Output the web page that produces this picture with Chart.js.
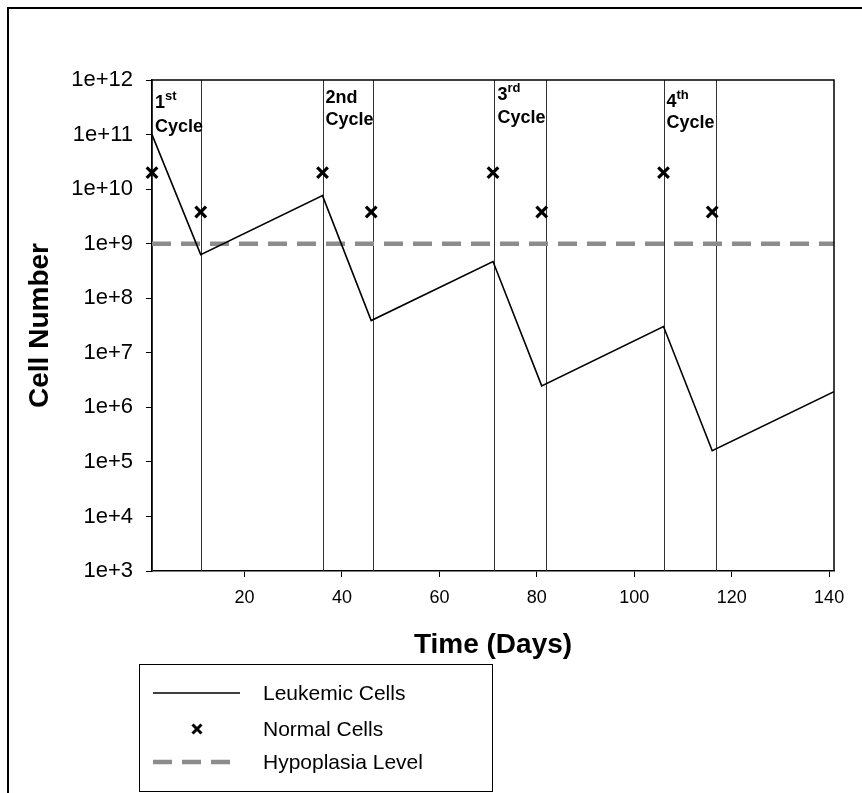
<!DOCTYPE html>
<html>
<head>
<meta charset="utf-8">
<script src="https://cdn.jsdelivr.net/npm/chart.js@4/dist/chart.umd.min.js"></script>
<style>
  html, body { margin: 0; padding: 0; background: #fff; }
  #wrap { position: relative; width: 862px; height: 793px; }
  canvas { display: block; }
</style>
</head>
<body>
<div id="wrap"><canvas id="c" width="862" height="793"></canvas></div>
<script>
// Leukemic cell burden over four chemotherapy cycles
const leukemicDays  = [1, 11, 36, 46, 71, 81, 106, 116, 141];
const leukemicCells = [1.0e11, 6.3e8, 7.6e9, 3.9e7, 4.7e8, 2.47e6, 3.03e7, 1.6e5, 1.94e6];

// Normal cell counts sampled at the start and end of each cycle
const normalDays  = [1, 11, 36, 46, 71, 81, 106, 116];
const normalCells = [2.0e10, 3.8e9, 2.0e10, 3.8e9, 2.0e10, 3.8e9, 2.0e10, 3.8e9];

const hypoplasiaLevel = 1e9;
const timeRange = [1, 141];

// Treatment windows
const cycleStartDays = [1, 36, 71.3, 106];
const cycleEndDays   = [11, 46.3, 81.8, 116.8];
const cycleNumbers   = ['1', '2', '3', '4'];
const cycleSuffixes  = ['st', 'nd', 'rd', 'th'];
const suffixRaised   = [true, false, true, true];

const xTicks = [20, 40, 60, 80, 100, 120, 140];
const yTickExponents = [3, 4, 5, 6, 7, 8, 9, 10, 11, 12];
const yTickLabels = ['1e+3', '1e+4', '1e+5', '1e+6', '1e+7', '1e+8', '1e+9', '1e+10', '1e+11', '1e+12'];

const legendLabels = ['Leukemic Cells', 'Normal Cells', 'Hypoplasia Level'];

const FONT = 'Arial, "Liberation Sans", Helvetica, sans-serif';
Chart.defaults.font.family = FONT;
Chart.defaults.color = '#000';

const drawX = (ctx, x, y, r, w) => {
  ctx.save();
  ctx.strokeStyle = '#000';
  ctx.lineWidth = w;
  ctx.beginPath();
  ctx.moveTo(x - r, y - r); ctx.lineTo(x + r, y + r);
  ctx.moveTo(x + r, y - r); ctx.lineTo(x - r, y + r);
  ctx.stroke();
  ctx.restore();
};

// baselines of the "Nth" line and the "Cycle" line for each annotation
const annotationBaselines = [[108, 132], [103, 125], [100, 123], [107, 128]];

const decorations = {
  id: 'decorations',
  beforeDatasetsDraw(chart) {
    const { ctx, chartArea: a, scales: { x } } = chart;
    ctx.save();
    ctx.strokeStyle = '#333';
    ctx.lineWidth = 1;
    [...cycleStartDays, ...cycleEndDays].forEach(d => {
      const px = Math.round(x.getPixelForValue(d)) + 0.5;
      ctx.beginPath();
      ctx.moveTo(px, a.top);
      ctx.lineTo(px, a.bottom);
      ctx.stroke();
    });
    ctx.restore();
  },
  afterDraw(chart) {
    const { ctx, chartArea: a, scales: { x } } = chart;
    ctx.save();
    // top and right edges of the plot box
    ctx.strokeStyle = '#000';
    ctx.lineWidth = 1.5;
    ctx.beginPath();
    ctx.moveTo(a.left, a.top);
    ctx.lineTo(a.right, a.top);
    ctx.lineTo(a.right, a.bottom);
    ctx.stroke();

    // outer frame
    ctx.lineWidth = 2;
    ctx.beginPath();
    ctx.moveTo(8, 793);
    ctx.lineTo(8, 8);
    ctx.lineTo(862, 8);
    ctx.stroke();

    // cycle annotations
    ctx.fillStyle = '#000';
    ctx.textBaseline = 'alphabetic';
    ctx.textAlign = 'left';
    cycleStartDays.forEach((d, i) => {
      const px = x.getPixelForValue(d) + 3;
      const [b1, b2] = annotationBaselines[i];
      ctx.font = 'bold 18px ' + FONT;
      ctx.fillText(cycleNumbers[i], px, b1);
      const w = ctx.measureText(cycleNumbers[i]).width;
      if (suffixRaised[i]) {
        ctx.font = 'bold 13px ' + FONT;
        ctx.fillText(cycleSuffixes[i], px + w, b1 - 8);
      } else {
        ctx.fillText(cycleSuffixes[i], px + w, b1);
      }
      ctx.font = 'bold 18px ' + FONT;
      ctx.fillText('Cycle', px, b2);
    });

    // legend
    const ds = chart.data.datasets;
    ctx.lineWidth = 1;
    ctx.strokeStyle = '#000';
    ctx.strokeRect(139.5, 664.5, 353, 127);
    const rows = [693, 729, 762];
    ctx.save();
    ctx.strokeStyle = ds[0].borderColor;
    ctx.lineWidth = 1.5;
    ctx.beginPath(); ctx.moveTo(153, rows[0]); ctx.lineTo(240, rows[0]); ctx.stroke();
    ctx.restore();
    drawX(ctx, 197, rows[1], 4.5, 3);
    ctx.save();
    ctx.strokeStyle = ds[2].borderColor;
    ctx.lineWidth = ds[2].borderWidth;
    ctx.setLineDash(ds[2].borderDash);
    ctx.beginPath(); ctx.moveTo(153, rows[2]); ctx.lineTo(232, rows[2]); ctx.stroke();
    ctx.restore();
    ctx.font = '21px ' + FONT;
    ctx.textBaseline = 'middle';
    legendLabels.forEach((t, i) => ctx.fillText(t, 263, rows[i] + 1));
    ctx.restore();
  }
};

new Chart(document.getElementById('c'), {
  type: 'line',
  data: {
    datasets: [
      {
        label: legendLabels[0],
        data: leukemicDays.map((d, i) => ({ x: d, y: leukemicCells[i] })),
        borderColor: '#000',
        borderWidth: 1.6,
        pointRadius: 0,
        tension: 0,
        order: 2
      },
      {
        label: legendLabels[1],
        data: normalDays.map((d, i) => ({ x: d, y: normalCells[i] })),
        showLine: false,
        pointStyle: 'crossRot',
        pointRadius: 7.5,
        pointBorderWidth: 3.2,
        pointBorderColor: '#000',
        borderColor: '#000',
        clip: false,
        order: 1
      },
      {
        label: legendLabels[2],
        data: timeRange.map(d => ({ x: d, y: hypoplasiaLevel })),
        borderColor: '#8c8c8c',
        borderWidth: 4.5,
        borderDash: [19, 10],
        pointRadius: 0,
        order: 3
      }
    ]
  },
  options: {
    responsive: false,
    animation: false,
    events: [],
    layout: { padding: { left: 0, right: 28, top: 80, bottom: 131 } },
    plugins: { legend: { display: false }, tooltip: { enabled: false } },
    scales: {
      x: {
        type: 'linear',
        min: timeRange[0],
        max: timeRange[1],
        afterBuildTicks: s => { s.ticks = xTicks.map(v => ({ value: v })); },
        afterFit: s => { s.height = 91; },
        ticks: { font: { size: 18 }, padding: 10, color: '#000', maxRotation: 0 },
        grid: { drawOnChartArea: false, drawTicks: true, tickLength: 6, color: '#000', lineWidth: 1 },
        border: { display: true, color: '#000', width: 1.5 },
        title: { display: true, text: 'Time (Days)', font: { size: 28, weight: 'bold' }, color: '#000', padding: { top: 0, bottom: 0 } }
      },
      y: {
        type: 'logarithmic',
        min: Math.pow(10, yTickExponents[0]),
        max: Math.pow(10, yTickExponents[yTickExponents.length - 1]),
        afterBuildTicks: s => { s.ticks = yTickExponents.map(e => ({ value: Math.pow(10, e) })); },
        afterFit: s => { s.width = 152; },
        ticks: {
          font: { size: 22 },
          padding: 13,
          color: '#000',
          callback: (v, i) => yTickLabels[i]
        },
        grid: { drawOnChartArea: false, drawTicks: true, tickLength: 6, color: '#000', lineWidth: 1 },
        border: { display: true, color: '#000', width: 1.5 },
        title: { display: true, text: 'Cell Number', font: { size: 28, weight: 'bold' }, color: '#000', padding: { top: 23, bottom: 0 } }
      }
    }
  },
  plugins: [decorations]
});
</script>
</body>
</html>
